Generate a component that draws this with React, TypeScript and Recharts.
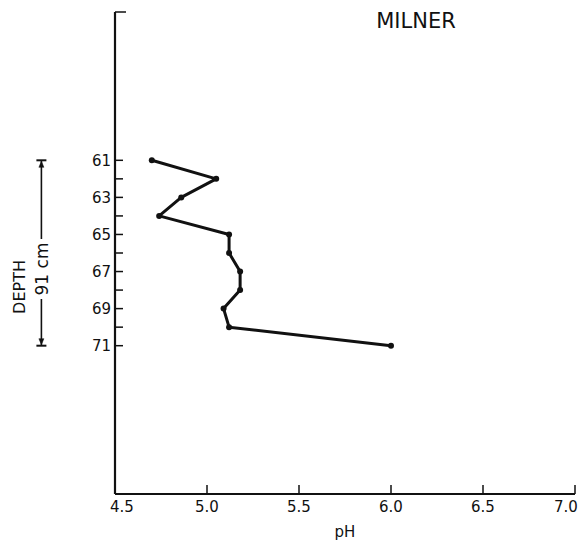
import { ReferenceLine, Scatter, ScatterChart, XAxis, YAxis } from "recharts";

// depth (cm index) vs pH
const depths = [61, 62, 63, 64, 65, 66, 67, 68, 69, 70, 71];
const phValues = [4.7, 5.05, 4.86, 4.74, 5.12, 5.12, 5.18, 5.18, 5.09, 5.12, 6.0];

const phTicks = [4.5, 5.0, 5.5, 6.0, 6.5, 7.0];
const depthTicks = [53, 61, 62, 63, 64, 65, 66, 67, 68, 69, 70, 71];
const depthLabels = [61, 63, 65, 67, 69, 71];

const BRACKET_PH = 4.1;
const BRACKET_TOP = 61;
const BRACKET_BOTTOM = 71;

const INK = "#111";
const FONT = "'DejaVu Sans', sans-serif";

const data = depths.map((depth, i) => ({ depth, ph: phValues[i] }));

function PhTick(props: any) {
  const { x, y, payload, index } = props;
  // end labels sit a little inside the axis ends, as in the print
  const nudge = index === 0 ? 7 : index === phTicks.length - 1 ? -9 : 0;
  return (
    <g>
      {index > 0 && (
        <line x1={x} y1={y} x2={x} y2={y - 9} stroke={INK} strokeWidth={1.5} />
      )}
      <text
        x={x + nudge}
        y={y + 18}
        textAnchor="middle"
        fontFamily={FONT}
        fontSize={15}
        fill={INK}
      >
        {payload.value.toFixed(1)}
      </text>
    </g>
  );
}

function DepthTick(props: any) {
  const { x, y, payload } = props;
  const v = payload.value;
  const len = v === 53 ? 11 : 8;
  return (
    <g>
      <line x1={x} y1={y} x2={x + len} y2={y} stroke={INK} strokeWidth={1.5} />
      {depthLabels.includes(v) && (
        <text
          x={x - 4}
          y={y + 5.5}
          textAnchor="end"
          fontFamily={FONT}
          fontSize={15}
          fill={INK}
        >
          {v}
        </text>
      )}
    </g>
  );
}

// vertical "91 cm" span bracket drawn between the two reference depths
function Bracket(props: any) {
  const { x1, y1, y2 } = props;
  const x = x1;
  const mid = (y1 + y2) / 2 + 16;
  const gap = 30;
  return (
    <g stroke={INK} strokeWidth={1.6}>
      <line x1={x} y1={y1} x2={x} y2={mid - gap} />
      <line x1={x} y1={mid + gap} x2={x} y2={y2} />
      <line x1={x - 5} y1={y1} x2={x + 5} y2={y1} strokeWidth={2} />
      <line x1={x - 5} y1={y2} x2={x + 5} y2={y2} strokeWidth={2} />
      <path d={`M${x - 2.5},${y1 + 7} L${x},${y1 + 1} L${x + 2.5},${y1 + 7} Z`} fill={INK} strokeWidth={0.5} />
      <path d={`M${x - 2.5},${y2 - 7} L${x},${y2 - 1} L${x + 2.5},${y2 - 7} Z`} fill={INK} strokeWidth={0.5} />
      <text
        x={x + 1}
        y={mid}
        transform={`rotate(-90, ${x + 1}, ${mid})`}
        textAnchor="middle"
        dominantBaseline="central"
        fontFamily={FONT}
        fontSize={17}
        fill={INK}
        stroke="none"
      >
        91 cm
      </text>
    </g>
  );
}

function Dot(props: any) {
  const { cx, cy } = props;
  return <circle cx={cx} cy={cy} r={3} fill={INK} />;
}

export default function App() {
  return (
    <div style={{ position: "absolute", left: 0, top: 0, background: "#fff" }}>
      <ScatterChart
        width={584}
        height={543}
        margin={{ top: 12, right: 9, bottom: 0, left: 0 }}
      >
        <XAxis
          type="number"
          dataKey="ph"
          domain={[4.5, 7.0]}
          ticks={phTicks}
          height={49}
          tickSize={0}
          tickMargin={0}
          tickLine={false}
          axisLine={{ stroke: INK, strokeWidth: 2 }}
          tick={<PhTick />}
          interval={0}
        />
        <YAxis
          type="number"
          dataKey="depth"
          domain={[53, 79]}
          reversed
          ticks={depthTicks}
          width={115}
          tickSize={0}
          tickMargin={0}
          tickLine={false}
          axisLine={{ stroke: INK, strokeWidth: 2.2 }}
          tick={<DepthTick />}
          interval={0}
        />
        <ReferenceLine
          segment={[
            { x: BRACKET_PH, y: BRACKET_TOP },
            { x: BRACKET_PH, y: BRACKET_BOTTOM },
          ]}
          ifOverflow="visible"
          shape={<Bracket />}
        />
        <Scatter
          data={data}
          line={{ stroke: INK, strokeWidth: 3, strokeLinejoin: "round" }}
          lineType="joint"
          shape={<Dot />}
          fill={INK}
          isAnimationActive={false}
        />
        <text
          x={416}
          y={28}
          textAnchor="middle"
          fontFamily={FONT}
          fontSize={21}
          fill={INK}
        >
          MILNER
        </text>
        <text
          x={19}
          y={287}
          transform="rotate(-90, 19, 287)"
          textAnchor="middle"
          dominantBaseline="central"
          fontFamily={FONT}
          fontSize={16}
          fill={INK}
        >
          DEPTH
        </text>
        <text
          x={345}
          y={537}
          textAnchor="middle"
          fontFamily={FONT}
          fontSize={15}
          fill={INK}
        >
          pH
        </text>
      </ScatterChart>
    </div>
  );
}
